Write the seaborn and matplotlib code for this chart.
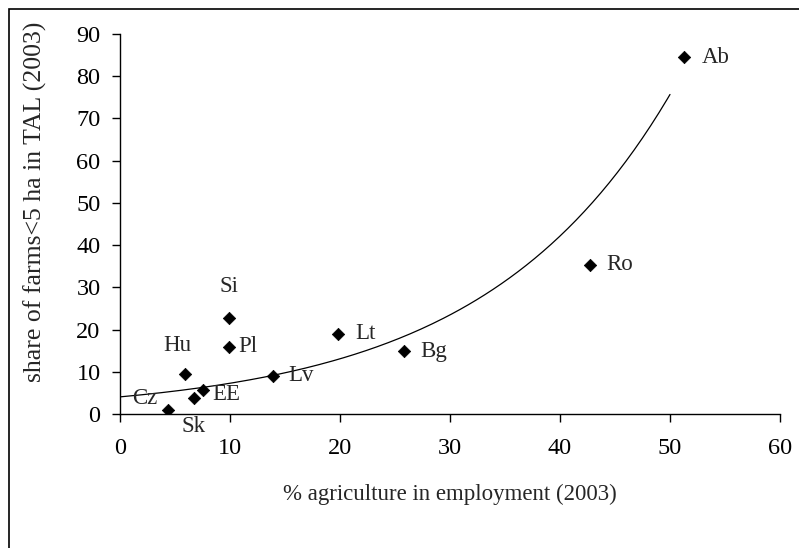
import numpy as np
import pandas as pd
import matplotlib
matplotlib.use("Agg")
import matplotlib.pyplot as plt
import seaborn as sns
from matplotlib.patches import Rectangle

# values
countries = ["Sk", "Cz", "EE", "Hu", "Si", "Pl", "Lv", "Lt", "Bg", "Ro", "Ab"]
agri_employment = [4.4, 6.7, 7.5, 5.9, 9.9, 9.9, 13.9, 19.85, 25.85, 42.7, 51.3]
small_farm_share = [0.95, 3.7, 5.7, 9.4, 22.8, 15.9, 9.1, 18.95, 14.9, 35.3, 84.5]

# label offsets in pixels (dx, dy) relative to each marker
label_offsets = {
    "Sk": (25, -17), "Cz": (-49, 0), "EE": (10, -5), "Hu": (-8, 29),
    "Si": (0, 31), "Pl": (9, 0), "Lv": (15, 0), "Lt": (17, 0),
    "Bg": (16, 0), "Ro": (17, 0), "Ab": (17, 0),
}
label_align = {"Cz": "center", "Hu": "center", "Si": "center", "Sk": "center"}

df = pd.DataFrame({"country": countries, "x": agri_employment, "y": small_farm_share})

sns.set_style("white")
plt.rcParams["font.family"] = ["Liberation Serif", "DejaVu Serif"]

fig = plt.figure(figsize=(7.99, 5.48), dpi=100)
ax = fig.add_axes([120 / 799, 1 - 414 / 548, 660 / 799, 380 / 548])

sns.scatterplot(data=df, x="x", y="y", marker="D", s=40, color="black",
                edgecolor="black", linewidth=0.5, ax=ax, zorder=3)

# exponential trendline (least squares on log y, like a spreadsheet trendline)
b, log_a = np.polyfit(df["x"], np.log(df["y"]), 1)
xs = np.linspace(0, 50, 200)
ax.plot(xs, np.exp(log_a) * np.exp(b * xs), color="black", lw=0.9)

for c, x, y in zip(countries, agri_employment, small_farm_share):
    dx, dy = label_offsets[c]
    ax.annotate(c, (x, y), xytext=(dx, dy), textcoords="offset pixels",
                ha=label_align.get(c, "left"), va="center", fontsize=16.5)

ax.set_xlim(0, 60)
ax.set_ylim(0, 90)
ax.set_xticks(range(0, 61, 10))
ax.set_yticks(range(0, 91, 10))
for side in ["top", "right"]:
    ax.spines[side].set_visible(False)
for side in ["left", "bottom"]:
    ax.spines[side].set_color("black")
    ax.spines[side].set_linewidth(1.0)
ax.tick_params(axis="both", direction="out", length=6, width=1, color="black",
               labelsize=17.5, labelcolor="black")
ax.tick_params(axis="y", pad=8)
ax.tick_params(axis="x", pad=11)
ax.tick_params(left=True, bottom=True)

ax.set_xlabel("% agriculture in employment (2003)", fontsize=16.5)
ax.set_ylabel("share of farms<5 ha in TAL (2003)", fontsize=18.5)
ax.xaxis.set_label_coords(0.5, -0.185)
ax.yaxis.set_label_coords(-0.11, 0.558)

# outer chart frame (right and bottom edges fall outside the image)
fig.patches.append(Rectangle((9 / 799, -0.1), 1.2, 1 - 9 / 548 + 0.1,
                             transform=fig.transFigure, fill=False,
                             edgecolor="black", lw=1.2))

fig.savefig("out.png", dpi=100)
